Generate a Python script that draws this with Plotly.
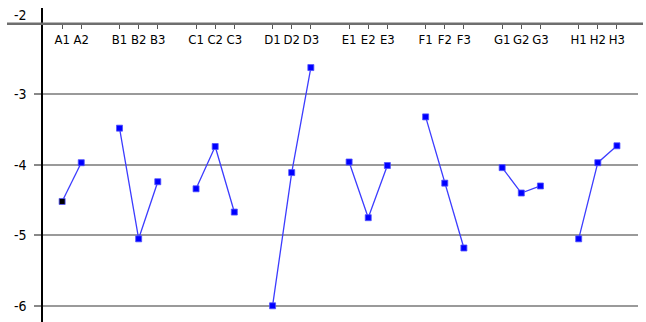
import plotly.graph_objects as go

# Sample labels per group and their measured values
groups = ["A", "B", "C", "D", "E", "F", "G", "H"]
labels = [
    ["A1", "A2"],
    ["B1", "B2", "B3"],
    ["C1", "C2", "C3"],
    ["D1", "D2", "D3"],
    ["E1", "E2", "E3"],
    ["F1", "F2", "F3"],
    ["G1", "G2", "G3"],
    ["H1", "H2", "H3"],
]
values = [
    [-4.52, -3.97],
    [-3.48, -5.05, -4.24],
    [-4.34, -3.74, -4.67],
    [-6.00, -4.11, -2.62],
    [-3.96, -4.75, -4.01],
    [-3.32, -4.26, -5.18],
    [-4.04, -4.40, -4.30],
    [-5.05, -3.97, -3.73],
]
y_ticks = [-6, -5, -4, -3, -2]

W, H = 646, 322
ML, MR, MT, MB = 43, 8, 8, 0
FONT = "Liberation Sans Narrow, DejaVu Sans Condensed, Arial Narrow, sans-serif"

# Place groups on a shared axis with one empty slot between groups
xs, ys, tick_pos, tick_txt, mcolors = [], [], [], [], []
pos = 0
for g, labs, vals in zip(groups, labels, values):
    for lab, v in zip(labs, vals):
        xs.append(pos)
        ys.append(v)
        tick_pos.append(pos)
        tick_txt.append(lab)
        mcolors.append("#000000" if lab == "A1" else "#0000ff")
        pos += 1
    xs.append(None)
    ys.append(None)
    mcolors.append("#0000ff")
    pos += 1

fig = go.Figure()
fig.add_trace(go.Scatter(
    x=xs, y=ys, mode="lines+markers",
    line=dict(color="#3c3cff", width=1.3),
    marker=dict(symbol="square", size=6, color=mcolors,
                line=dict(color="#5050ff", width=0.8)),
    connectgaps=False, showlegend=False, hoverinfo="x+y",
))

y_lo, y_hi = -6.23, -1.775
x_axis_pos = ((-2) - y_lo) / (y_hi - y_lo)

# Baseline at -2 extending past the plotting area on both sides
plot_w = W - ML - MR
fig.add_shape(type="line", xref="paper", yref="y",
              x0=(7 - ML) / plot_w, x1=(643 - ML) / plot_w, y0=-2, y1=-2,
              line=dict(color="#6e6e6e", width=2.5), layer="above")
fig.add_annotation(xref="paper", yref="y", x=(29 - ML) / plot_w, y=-2,
                   yshift=9, text="-2", showarrow=False, xanchor="right",
                   font=dict(family=FONT, size=14, color="#000000"))

fig.update_layout(
    width=W, height=H,
    margin=dict(l=ML, r=MR, t=MT, b=MB),
    paper_bgcolor="#ffffff", plot_bgcolor="#ffffff",
    font=dict(family=FONT, size=13, color="#000000"),
    xaxis=dict(
        range=[-1, 30.1], tickvals=tick_pos, ticktext=tick_txt,
        anchor="free", position=x_axis_pos, side="bottom",
        ticks="outside", ticklen=4, tickcolor="#555555", tickwidth=1,
        showgrid=False, zeroline=False, showline=False,
        tickfont=dict(family=FONT, size=13),
    ),
    yaxis=dict(
        range=[y_lo, y_hi], tickvals=y_ticks,
        ticktext=["-6", "-5", "-4", "-3", ""],
        showline=True, linecolor="#000000", linewidth=1.5,
        ticks="outside", ticklen=7, tickcolor="#888888", tickwidth=1.5,
        ticklabelstandoff=5,
        showgrid=True, gridcolor="#9a9a9a", gridwidth=1.5,
        zeroline=False, tickfont=dict(family=FONT, size=14),
    ),
)

fig.write_html("out.html")
